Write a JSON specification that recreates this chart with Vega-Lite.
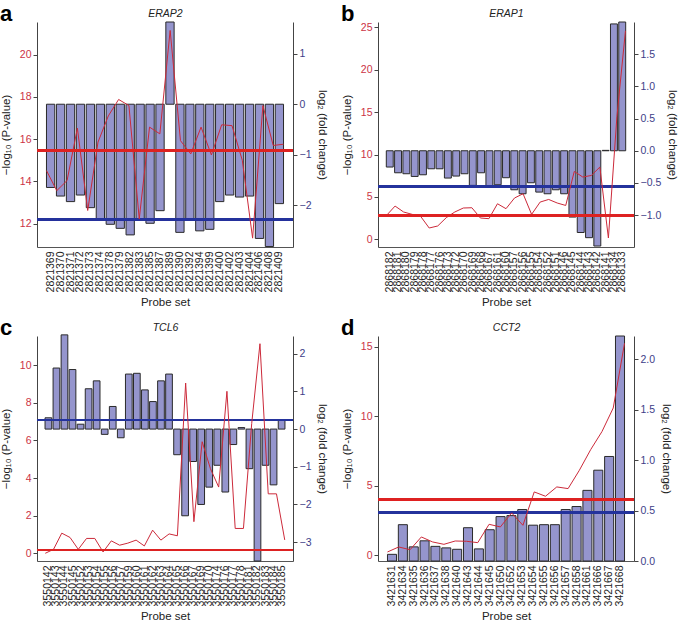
{
  "$schema": "https://vega.github.io/schema/vega-lite/v6.json",
  "padding": {"left": 0, "top": 3, "right": 0, "bottom": 0},
  "background": "white",
  "datasets": {
    "a": [
      {"probe": "2821369", "fc": -1.65, "p": 14.51},
      {"probe": "2821370", "fc": -1.82, "p": 13.56},
      {"probe": "2821371", "fc": -1.93, "p": 14.04},
      {"probe": "2821372", "fc": -1.80, "p": 16.52},
      {"probe": "2821373", "fc": -2.05, "p": 12.62},
      {"probe": "2821374", "fc": -2.28, "p": 15.86},
      {"probe": "2821378", "fc": -2.38, "p": 17.1},
      {"probe": "2821379", "fc": -2.46, "p": 17.88},
      {"probe": "2821382", "fc": -2.59, "p": 17.59},
      {"probe": "2821383", "fc": -2.28, "p": 12.22},
      {"probe": "2821385", "fc": -2.36, "p": 16.57},
      {"probe": "2821387", "fc": -2.11, "p": 16.25},
      {"probe": "2821389", "fc": 1.63, "p": 21.15},
      {"probe": "2821390", "fc": -2.54, "p": 15.93},
      {"probe": "2821392", "fc": -2.28, "p": 15.30},
      {"probe": "2821394", "fc": -2.51, "p": 16.57},
      {"probe": "2821399", "fc": -2.48, "p": 15.25},
      {"probe": "2821400", "fc": -1.93, "p": 16.68},
      {"probe": "2821402", "fc": -1.80, "p": 16.64},
      {"probe": "2821403", "fc": -1.84, "p": 15.0},
      {"probe": "2821404", "fc": -1.82, "p": 11.31},
      {"probe": "2821406", "fc": -2.66, "p": 17.59},
      {"probe": "2821408", "fc": -2.82, "p": 15.70},
      {"probe": "2821409", "fc": -1.97, "p": 15.76}
    ],
    "b": [
      {"probe": "2868182", "fc": -0.253, "p": 2.83},
      {"probe": "2868181", "fc": -0.342, "p": 3.93},
      {"probe": "2868180", "fc": -0.357, "p": 3.23},
      {"probe": "2868179", "fc": -0.399, "p": 2.95},
      {"probe": "2868178", "fc": -0.373, "p": 2.71},
      {"probe": "2868177", "fc": -0.280, "p": 1.34},
      {"probe": "2868176", "fc": -0.280, "p": 1.58},
      {"probe": "2868173", "fc": -0.424, "p": 2.56},
      {"probe": "2868172", "fc": -0.393, "p": 3.23},
      {"probe": "2868170", "fc": -0.357, "p": 3.70},
      {"probe": "2868169", "fc": -0.538, "p": 3.73},
      {"probe": "2868168", "fc": -0.342, "p": 2.52},
      {"probe": "2868167", "fc": -0.564, "p": 2.44},
      {"probe": "2868161", "fc": -0.528, "p": 4.20},
      {"probe": "2868160", "fc": -0.419, "p": 3.62},
      {"probe": "2868157", "fc": -0.606, "p": 4.88},
      {"probe": "2868156", "fc": -0.668, "p": 5.38},
      {"probe": "2868155", "fc": -0.497, "p": 2.95},
      {"probe": "2868154", "fc": -0.642, "p": 4.40},
      {"probe": "2868152", "fc": -0.668, "p": 4.71},
      {"probe": "2868151", "fc": -0.606, "p": 4.29},
      {"probe": "2868146", "fc": -0.668, "p": 4.00},
      {"probe": "2868145", "fc": -1.03, "p": 8.01},
      {"probe": "2868144", "fc": -1.27, "p": 7.35},
      {"probe": "2868143", "fc": -1.35, "p": 7.54},
      {"probe": "2868142", "fc": -1.48, "p": 8.53},
      {"probe": "2868141", "fc": 0.006, "p": 0.16},
      {"probe": "2868134", "fc": 1.97, "p": 14.5},
      {"probe": "2868133", "fc": 2.0, "p": 24.6}
    ],
    "c": [
      {"probe": "3550142", "fc": 0.30, "p": 0.0},
      {"probe": "3550143", "fc": 1.62, "p": 0.21},
      {"probe": "3550144", "fc": 2.50, "p": 1.07},
      {"probe": "3550145", "fc": 1.58, "p": 0.84},
      {"probe": "3550152", "fc": 0.13, "p": 0.21},
      {"probe": "3550153", "fc": 1.07, "p": 0.79},
      {"probe": "3550154", "fc": 1.28, "p": 0.79},
      {"probe": "3550155", "fc": -0.14, "p": 0.07},
      {"probe": "3550156", "fc": 0.60, "p": 0.66},
      {"probe": "3550157", "fc": -0.23, "p": 0.43},
      {"probe": "3550159", "fc": 1.46, "p": 0.54},
      {"probe": "3550160", "fc": 1.48, "p": 0.70},
      {"probe": "3550161", "fc": 1.04, "p": 0.39},
      {"probe": "3550162", "fc": 0.73, "p": 1.23},
      {"probe": "3550163", "fc": 1.28, "p": 0.70},
      {"probe": "3550164", "fc": 1.46, "p": 1.03},
      {"probe": "3550165", "fc": -0.68, "p": 0.93},
      {"probe": "3550166", "fc": -2.30, "p": 9.05},
      {"probe": "3550167", "fc": -0.86, "p": 1.68},
      {"probe": "3550169", "fc": -2.00, "p": 5.93},
      {"probe": "3550170", "fc": -1.54, "p": 4.50},
      {"probe": "3550174", "fc": -0.96, "p": 3.52},
      {"probe": "3550176", "fc": -1.67, "p": 8.61},
      {"probe": "3550177", "fc": -0.41, "p": 1.32},
      {"probe": "3550178", "fc": 0.04, "p": 1.32},
      {"probe": "3550181", "fc": -1.05, "p": 6.9},
      {"probe": "3550182", "fc": -3.50, "p": 11.14},
      {"probe": "3550183", "fc": -0.96, "p": 3.16},
      {"probe": "3550184", "fc": -1.48, "p": 3.16},
      {"probe": "3550185", "fc": 0.23, "p": 0.71}
    ],
    "d": [
      {"probe": "3421631", "fc": 0.066, "p": 0.24},
      {"probe": "3421634", "fc": 0.36, "p": 0.60},
      {"probe": "3421635", "fc": 0.14, "p": 0.40},
      {"probe": "3421636", "fc": 0.20, "p": 1.32},
      {"probe": "3421637", "fc": 0.145, "p": 0.96},
      {"probe": "3421638", "fc": 0.13, "p": 0.79},
      {"probe": "3421640", "fc": 0.116, "p": 1.03},
      {"probe": "3421643", "fc": 0.33, "p": 1.01},
      {"probe": "3421644", "fc": 0.12, "p": 0.91},
      {"probe": "3421645", "fc": 0.31, "p": 2.23},
      {"probe": "3421650", "fc": 0.44, "p": 2.04},
      {"probe": "3421652", "fc": 0.45, "p": 3.05},
      {"probe": "3421653", "fc": 0.51, "p": 2.16},
      {"probe": "3421654", "fc": 0.355, "p": 4.56},
      {"probe": "3421655", "fc": 0.36, "p": 4.25},
      {"probe": "3421656", "fc": 0.36, "p": 4.92},
      {"probe": "3421657", "fc": 0.51, "p": 4.80},
      {"probe": "3421658", "fc": 0.54, "p": 6.12},
      {"probe": "3421661", "fc": 0.70, "p": 7.6},
      {"probe": "3421666", "fc": 0.90, "p": 8.9},
      {"probe": "3421667", "fc": 1.036, "p": 10.6},
      {"probe": "3421668", "fc": 2.23, "p": 15.25}
    ]
  },
  "concat": [
    {
      "title": {"text": "a", "anchor": "start", "frame": "bounds", "offset": -18},
      "width": 256, "height": 225,
      "data": {"name": "a"},
      "layer": [
        {"layer": [
          {"mark": {"type": "bar", "fill": "#9595cd", "stroke": "#2a2a2a", "strokeWidth": 1},
           "encoding": {
             "x": {"field": "probe", "type": "nominal", "sort": null, "scale": {"type": "band", "paddingInner": 0.1667, "paddingOuter": 0.953}, "axis": {"orient": "bottom", "title": "Probe set"}},
             "y": {"field": "fc", "type": "quantitative", "scale": {"domain": [-2.83, 1.63], "nice": false, "zero": false}, "axis": {"orient": "right", "values": [-2, -1, 0, 1], "title": "log₂ (fold change)"}},
             "y2": {"datum": 0}
           }},
          {"mark": {"type": "rule", "color": "#24339c", "strokeWidth": 2}, "encoding": {"y": {"datum": -2.28}}}
        ]},
        {"layer": [
          {"mark": {"type": "line", "color": "#cc2a3a", "strokeWidth": 1},
           "encoding": {
             "x": {"field": "probe", "type": "nominal", "sort": null, "scale": {"type": "point", "padding": 0.92}, "axis": {"orient": "top", "title": "ERAP2"}},
             "y": {"field": "p", "type": "quantitative", "scale": {"domain": [10.89, 21.55], "nice": false, "zero": false}, "axis": {"orient": "left", "values": [12, 14, 16, 18, 20], "title": "−log₁₀ (P-value)"}}
           }},
          {"mark": {"type": "rule", "color": "#dd2222", "strokeWidth": 2}, "encoding": {"y": {"datum": 15.46}}}
        ]}
      ],
      "resolve": {"scale": {"x": "independent", "y": "independent"}}
    },
    {
      "title": {"text": "b", "anchor": "start", "frame": "bounds", "offset": -18},
      "width": 256, "height": 225,
      "data": {"name": "b"},
      "layer": [
        {"layer": [
          {"mark": {"type": "bar", "fill": "#9595cd", "stroke": "#2a2a2a", "strokeWidth": 1},
           "encoding": {
             "x": {"field": "probe", "type": "nominal", "sort": null, "scale": {"type": "band", "paddingInner": 0.1667, "paddingOuter": 1.153}, "axis": {"orient": "bottom", "title": "Probe set"}},
             "y": {"field": "fc", "type": "quantitative", "scale": {"domain": [-1.495, 2.0], "nice": false, "zero": false}, "axis": {"orient": "right", "values": [-1, -0.5, 0, 0.5, 1, 1.5], "format": ".1f", "title": "log₂ (fold change)"}},
             "y2": {"datum": 0}
           }},
          {"mark": {"type": "rule", "color": "#24339c", "strokeWidth": 2}, "encoding": {"y": {"datum": -0.554}}}
        ]},
        {"layer": [
          {"mark": {"type": "line", "color": "#cc2a3a", "strokeWidth": 1},
           "encoding": {
             "x": {"field": "probe", "type": "nominal", "sort": null, "scale": {"type": "point", "padding": 1.12}, "axis": {"orient": "top", "title": "ERAP1"}},
             "y": {"field": "p", "type": "quantitative", "scale": {"domain": [-0.9, 25.64], "nice": false, "zero": false}, "axis": {"orient": "left", "values": [0, 5, 10, 15, 20, 25], "title": "−log₁₀ (P-value)"}}
           }},
          {"mark": {"type": "rule", "color": "#dd2222", "strokeWidth": 2}, "encoding": {"y": {"datum": 2.83}}}
        ]}
      ],
      "resolve": {"scale": {"x": "independent", "y": "independent"}}
    },
    {
      "title": {"text": "c", "anchor": "start", "frame": "bounds", "offset": -18},
      "width": 256, "height": 225,
      "data": {"name": "c"},
      "layer": [
        {"layer": [
          {"mark": {"type": "bar", "fill": "#9595cd", "stroke": "#2a2a2a", "strokeWidth": 1},
           "encoding": {
             "x": {"field": "probe", "type": "nominal", "sort": null, "scale": {"type": "band", "paddingInner": 0.1667, "paddingOuter": 1.193}, "axis": {"orient": "bottom", "title": "Probe set"}},
             "y": {"field": "fc", "type": "quantitative", "scale": {"domain": [-3.5, 2.47], "nice": false, "zero": false}, "axis": {"orient": "right", "values": [-3, -2, -1, 0, 1, 2], "title": "log₂ (fold change)"}},
             "y2": {"datum": 0}
           }},
          {"mark": {"type": "rule", "color": "#24339c", "strokeWidth": 2}, "encoding": {"y": {"datum": 0.24}}}
        ]},
        {"layer": [
          {"mark": {"type": "line", "color": "#cc2a3a", "strokeWidth": 1},
           "encoding": {
             "x": {"field": "probe", "type": "nominal", "sort": null, "scale": {"type": "point", "padding": 1.16}, "axis": {"orient": "top", "title": "TCL6"}},
             "y": {"field": "p", "type": "quantitative", "scale": {"domain": [-0.41, 11.55], "nice": false, "zero": false}, "axis": {"orient": "left", "values": [0, 2, 4, 6, 8, 10], "title": "−log₁₀ (P-value)"}}
           }},
          {"mark": {"type": "rule", "color": "#dd2222", "strokeWidth": 2}, "encoding": {"y": {"datum": 0.18}}}
        ]}
      ],
      "resolve": {"scale": {"x": "independent", "y": "independent"}}
    },
    {
      "title": {"text": "d", "anchor": "start", "frame": "bounds", "offset": -18},
      "width": 256, "height": 225,
      "data": {"name": "d"},
      "layer": [
        {"layer": [
          {"mark": {"type": "bar", "fill": "#9595cd", "stroke": "#2a2a2a", "strokeWidth": 1},
           "encoding": {
             "x": {"field": "probe", "type": "nominal", "sort": null, "scale": {"type": "band", "paddingInner": 0.1667, "paddingOuter": 0.873}, "axis": {"orient": "bottom", "title": "Probe set"}},
             "y": {"field": "fc", "type": "quantitative", "scale": {"domain": [0, 2.23], "nice": false, "zero": false}, "axis": {"orient": "right", "values": [0, 0.5, 1, 1.5, 2], "format": ".1f", "title": "log₂ (fold change)"}},
             "y2": {"datum": 0}
           }},
          {"mark": {"type": "rule", "color": "#24339c", "strokeWidth": 2}, "encoding": {"y": {"datum": 0.48}}}
        ]},
        {"layer": [
          {"mark": {"type": "line", "color": "#cc2a3a", "strokeWidth": 1},
           "encoding": {
             "x": {"field": "probe", "type": "nominal", "sort": null, "scale": {"type": "point", "padding": 0.84}, "axis": {"orient": "top", "title": "CCT2"}},
             "y": {"field": "p", "type": "quantitative", "scale": {"domain": [-0.41, 15.78], "nice": false, "zero": false}, "axis": {"orient": "left", "values": [0, 5, 10, 15], "title": "−log₁₀ (P-value)"}}
           }},
          {"mark": {"type": "rule", "color": "#dd2222", "strokeWidth": 2}, "encoding": {"y": {"datum": 4.03}}}
        ]}
      ],
      "resolve": {"scale": {"x": "independent", "y": "independent"}}
    }
  ],
  "columns": 2,
  "spacing": {"row": 8, "column": 13},
  "config": {
    "font": "Liberation Sans",
    "view": {"stroke": null},
    "title": {"fontSize": 22, "fontWeight": "bold", "color": "#000", "font": "Liberation Sans"},
    "axis": {"grid": false, "domainColor": "#444", "tickColor": "#444", "labelFontSize": 10.5, "titleFontSize": 11.5, "titleFontWeight": "normal", "titleColor": "#222", "labelFont": "Liberation Sans", "titleFont": "Liberation Sans"},
    "axisLeft": {"labelColor": "#cc3344", "tickSize": 4, "labelPadding": 2, "titlePadding": 6, "minExtent": 20, "maxExtent": 20},
    "axisRight": {"labelColor": "#3d3d88", "tickSize": 4, "labelPadding": 2, "titlePadding": 6, "titleAngle": 90},
    "axisBottom": {"labelAngle": -90, "ticks": false, "labelPadding": 4, "labelOverlap": false, "labelColor": "#222", "titlePadding": 5, "domainColor": "#555"},
    "axisTop": {"labels": false, "ticks": false, "domain": false, "titleFontStyle": "italic", "titleFontSize": 10.5, "titlePadding": 4}
  }
}
